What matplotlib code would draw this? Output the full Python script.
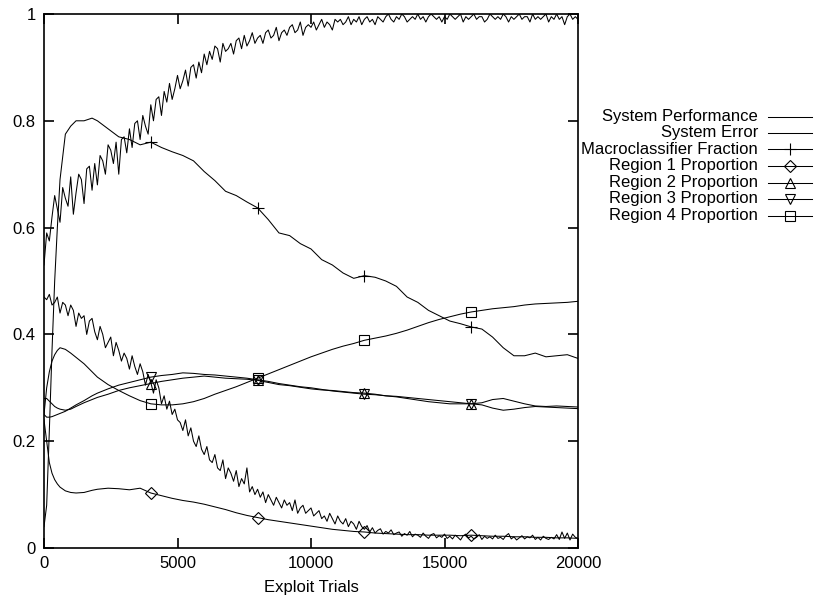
import matplotlib
matplotlib.use("Agg")
import matplotlib.pyplot as plt
from matplotlib.lines import Line2D

plt.rcParams['font.family'] = ['Liberation Sans', 'DejaVu Sans']

# ---------------- data ----------------
trials_noisy = list(range(0, 20001, 100))

system_performance = [
    0.53, 0.59, 0.575, 0.62, 0.66, 0.635, 0.61, 0.675, 0.655, 0.64,
    0.695, 0.625, 0.665, 0.70, 0.69, 0.645, 0.71, 0.715, 0.67, 0.72,
    0.68, 0.735, 0.725, 0.70, 0.755, 0.745, 0.72, 0.76, 0.70, 0.765,
    0.77, 0.74, 0.785, 0.75, 0.795, 0.80, 0.765, 0.81, 0.79, 0.775,
    0.83, 0.80, 0.84, 0.845, 0.81, 0.855, 0.835, 0.87, 0.84, 0.86,
    0.885, 0.86, 0.875, 0.895, 0.865, 0.90, 0.905, 0.88, 0.91, 0.89,
    0.925, 0.905, 0.93, 0.915, 0.94, 0.935, 0.91, 0.945, 0.93, 0.935,
    0.945, 0.925, 0.95, 0.955, 0.935, 0.96, 0.94, 0.95, 0.965, 0.945,
    0.955, 0.96, 0.945, 0.965, 0.97, 0.955, 0.96, 0.975, 0.95, 0.965,
    0.97, 0.96, 0.975, 0.98, 0.965, 0.97, 0.985, 0.96, 0.975, 0.98,
    0.975, 0.985, 0.97, 0.98, 0.99, 0.975, 0.985, 0.98, 0.97, 0.99,
    0.985, 0.99, 0.98, 0.985, 0.995, 0.98, 0.99, 0.985, 0.995, 0.98,
    0.99, 0.995, 0.985, 0.99, 0.98, 0.995, 0.99, 0.985, 0.995, 1.0,
    0.99, 0.985, 0.995, 0.99, 1.0, 0.995, 0.985, 0.99, 0.995, 0.99,
    1.0, 0.99, 0.995, 0.985, 0.995, 1.0, 0.995, 0.99, 0.995, 0.985,
    0.995, 0.99, 1.0, 0.995, 0.99, 0.995, 1.0, 0.985, 0.995, 0.99,
    0.995, 1.0, 0.99, 0.995, 0.995, 0.985, 0.99, 1.0, 0.995, 0.99,
    0.995, 0.99, 1.0, 0.995, 0.985, 0.995, 0.99, 0.995, 1.0, 0.99,
    0.995, 0.995, 0.985, 1.0, 0.99, 0.995, 0.99, 0.995, 1.0, 0.985,
    0.995, 0.99, 1.0, 0.99, 0.995, 0.98, 0.995, 1.0, 0.99, 0.995,
    0.99,
]

system_error = [
    0.47, 0.465, 0.475, 0.455, 0.46, 0.47, 0.44, 0.46, 0.455, 0.435,
    0.455, 0.445, 0.415, 0.44, 0.43, 0.435, 0.40, 0.425, 0.43, 0.405,
    0.39, 0.415, 0.40, 0.375, 0.385, 0.395, 0.36, 0.385, 0.37, 0.35,
    0.365, 0.355, 0.335, 0.36, 0.34, 0.325, 0.345, 0.33, 0.305, 0.325,
    0.31, 0.29, 0.315, 0.30, 0.27, 0.285, 0.26, 0.275, 0.25, 0.26,
    0.24, 0.235, 0.22, 0.24, 0.21, 0.225, 0.20, 0.19, 0.21, 0.185,
    0.175, 0.19, 0.165, 0.16, 0.175, 0.15, 0.145, 0.165, 0.13, 0.15,
    0.14, 0.125, 0.145, 0.115, 0.13, 0.12, 0.15, 0.105, 0.115, 0.10,
    0.11, 0.095, 0.105, 0.085, 0.10, 0.09, 0.08, 0.095, 0.085, 0.075,
    0.09, 0.08, 0.085, 0.07, 0.09, 0.065, 0.075, 0.08, 0.065, 0.07,
    0.075, 0.06, 0.065, 0.07, 0.055, 0.06, 0.05, 0.065, 0.055, 0.045,
    0.06, 0.05, 0.045, 0.055, 0.04, 0.05, 0.045, 0.035, 0.05, 0.04,
    0.035, 0.042, 0.03, 0.038, 0.028, 0.033, 0.036, 0.026, 0.031, 0.028,
    0.034, 0.025, 0.028, 0.03, 0.022, 0.027, 0.024, 0.031, 0.021, 0.026,
    0.024, 0.02, 0.028, 0.022, 0.018, 0.025, 0.027, 0.019, 0.023, 0.02,
    0.026, 0.018, 0.022, 0.017, 0.024, 0.02, 0.015, 0.023, 0.026, 0.019,
    0.022, 0.017, 0.02, 0.025, 0.016, 0.022, 0.018, 0.021, 0.017, 0.024,
    0.018, 0.02, 0.016, 0.023, 0.027, 0.017, 0.021, 0.015, 0.019, 0.023,
    0.017, 0.021, 0.019, 0.024, 0.016, 0.02, 0.015, 0.022, 0.018, 0.016,
    0.02, 0.017, 0.025, 0.016, 0.03, 0.018, 0.028, 0.015, 0.026, 0.02,
    0.018,
]

trials_smooth = [0, 100, 200, 300, 400, 500, 600, 800, 1000, 1200, 1500, 1800,
                 2000, 2400, 2800, 3200, 3600, 4000, 4400, 4800, 5200, 5600,
                 6000, 6400, 6800, 7200, 7600, 8000, 8400, 8800, 9200, 9600,
                 10000, 10400, 10800, 11200, 11600, 12000, 12400, 12800, 13200,
                 13600, 14000, 14400, 14800, 15200, 15600, 16000, 16400, 16800,
                 17200, 17600, 18000, 18400, 18800, 19200, 19600, 20000]

macroclassifier_fraction = [
    0.04, 0.08, 0.22, 0.37, 0.50, 0.60, 0.69, 0.775, 0.79, 0.80, 0.80, 0.805,
    0.80, 0.785, 0.77, 0.765, 0.755, 0.76, 0.75, 0.742, 0.735, 0.725,
    0.705, 0.688, 0.668, 0.66, 0.648, 0.637, 0.615, 0.59, 0.585, 0.57,
    0.56, 0.54, 0.53, 0.515, 0.505, 0.51, 0.507, 0.50, 0.49,
    0.47, 0.46, 0.445, 0.435, 0.425, 0.42, 0.414, 0.41, 0.395,
    0.375, 0.36, 0.36, 0.365, 0.358, 0.36, 0.362, 0.355,
]

region1 = [
    0.24, 0.20, 0.16, 0.14, 0.128, 0.12, 0.114, 0.107, 0.104, 0.103, 0.104, 0.108,
    0.11, 0.112, 0.111, 0.109, 0.112, 0.103, 0.098, 0.093, 0.089, 0.086,
    0.082, 0.077, 0.072, 0.066, 0.061, 0.057, 0.053, 0.05, 0.047, 0.044,
    0.041, 0.038, 0.035, 0.033, 0.031, 0.03, 0.028, 0.027, 0.026,
    0.025, 0.025, 0.024, 0.024, 0.024, 0.023, 0.024, 0.023, 0.022,
    0.022, 0.021, 0.021, 0.02, 0.02, 0.019, 0.019, 0.018,
]

region2 = [
    0.28, 0.28, 0.275, 0.27, 0.265, 0.262, 0.26, 0.258, 0.26, 0.265, 0.272, 0.278,
    0.282, 0.288, 0.295, 0.30, 0.304, 0.308, 0.312, 0.315, 0.318, 0.32,
    0.322, 0.32, 0.318, 0.317, 0.316, 0.314, 0.31, 0.306, 0.304, 0.301,
    0.298, 0.296, 0.295, 0.293, 0.291, 0.29, 0.288, 0.285, 0.283,
    0.28, 0.277, 0.274, 0.272, 0.27, 0.27, 0.27, 0.268, 0.262,
    0.258, 0.26, 0.263, 0.265, 0.264, 0.263, 0.262, 0.261,
]

region3 = [
    0.25, 0.245, 0.245, 0.246, 0.248, 0.25, 0.252, 0.256, 0.262, 0.268, 0.276, 0.285,
    0.29, 0.298, 0.305, 0.31, 0.315, 0.32, 0.323, 0.325, 0.328, 0.327,
    0.325, 0.324, 0.322, 0.32, 0.318, 0.315, 0.312, 0.308, 0.305, 0.302,
    0.30, 0.297, 0.294, 0.292, 0.29, 0.288, 0.287, 0.285, 0.284,
    0.282, 0.28, 0.278, 0.276, 0.274, 0.272, 0.27, 0.272, 0.278,
    0.28, 0.275, 0.27, 0.266, 0.265, 0.266, 0.265, 0.264,
]

region4 = [
    0.25, 0.30, 0.33, 0.35, 0.362, 0.37, 0.375, 0.372, 0.365, 0.357, 0.345, 0.33,
    0.32, 0.306, 0.295, 0.285, 0.276, 0.27, 0.268, 0.268, 0.27, 0.274,
    0.28, 0.288, 0.295, 0.302, 0.31, 0.318, 0.326, 0.334, 0.342, 0.35,
    0.358, 0.365, 0.372, 0.378, 0.383, 0.389, 0.393, 0.397, 0.402,
    0.408, 0.415, 0.422, 0.428, 0.433, 0.438, 0.442, 0.445, 0.448,
    0.45, 0.452, 0.455, 0.457, 0.458, 0.459, 0.46, 0.462,
]

marker_trials = [4000, 8000, 12000, 16000]
x_ticks = [0, 5000, 10000, 15000, 20000]
x_ticklabels = ["0", "5000", "10000", "15000", "20000"]
y_ticks = [0, 0.2, 0.4, 0.6, 0.8, 1.0]
y_ticklabels = ["0", "0.2", "0.4", "0.6", "0.8", "1"]

labels = ["System Performance", "System Error", "Macroclassifier Fraction",
          "Region 1 Proportion", "Region 2 Proportion", "Region 3 Proportion",
          "Region 4 Proportion"]

# ---------------- plot ----------------
W, H = 817, 602
fig = plt.figure(figsize=(W / 100, H / 100), dpi=100)
ax = fig.add_axes([44 / W, 1 - 548 / H, (578 - 44) / W, (548 - 14) / H])

lw = 0.75
mark_idx = [trials_smooth.index(t) for t in marker_trials]

styles = [
    dict(marker=None),
    dict(marker=None),
    dict(marker='+', ms=9, mew=0.8),
    dict(marker='D', ms=6, mfc='none', mew=0.8),
    dict(marker='^', ms=7, mfc='none', mew=0.8),
    dict(marker='v', ms=7, mfc='none', mew=0.8),
    dict(marker='s', ms=7.5, mfc='none', mew=0.8),
]

ax.plot(trials_noisy, system_performance, color='k', lw=lw)
ax.plot(trials_noisy, system_error, color='k', lw=lw)
smooth_series = [macroclassifier_fraction, region1, region2, region3, region4]
for ser, st in zip(smooth_series, styles[2:]):
    ax.plot(trials_smooth, ser, color='k', lw=lw, mec='k',
            markevery=mark_idx, **st)

ax.set_xlim(0, 20000)
ax.set_ylim(0, 1)
ax.set_xticks(x_ticks)
ax.set_xticklabels(x_ticklabels)
ax.set_yticks(y_ticks)
ax.set_yticklabels(y_ticklabels)
ax.tick_params(direction='in', length=7, width=1.2, top=True, right=True,
               labelsize=12, pad=6, colors='k')
for sp in ax.spines.values():
    sp.set_linewidth(1.2)
ax.set_xlabel("Exploit Trials", fontsize=12, labelpad=6)

# legend (gnuplot style: right-aligned text, sample to the right)
y0 = 116.5
dy = 16.5
for i, (lab, st) in enumerate(zip(labels, styles)):
    ypx = y0 + i * dy
    yf = 1 - ypx / H
    fig.text(758 / W, yf, lab, ha='right', va='center', fontsize=12)
    ln = Line2D([768 / W, 812 / W], [yf, yf], transform=fig.transFigure,
                color='k', lw=lw)
    fig.add_artist(ln)
    if st.get('marker'):
        mk = dict(st)
        mk.pop('marker')
        mm = Line2D([790 / W], [yf], transform=fig.transFigure, color='k',
                    mec='k', marker=st['marker'], linestyle='none', **mk)
        fig.add_artist(mm)

fig.savefig("out.png", dpi=100)
